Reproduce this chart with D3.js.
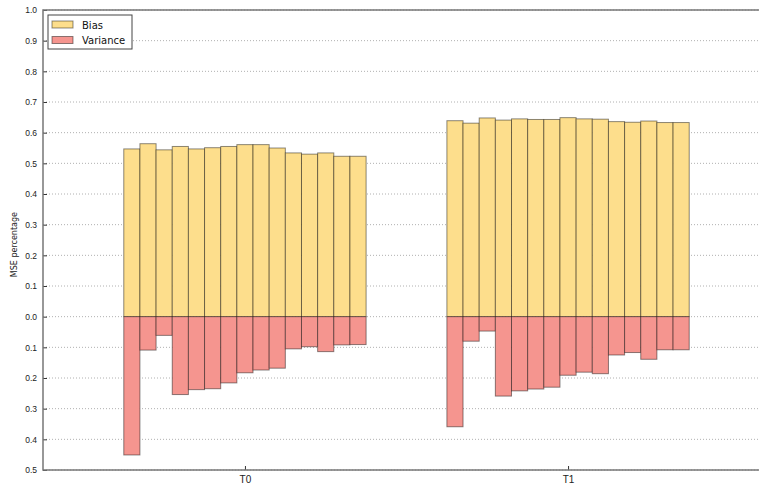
<!DOCTYPE html>
<html>
<head>
<meta charset="utf-8">
<script src="https://cdn.jsdelivr.net/npm/d3@7"></script>
<style>
  body { margin: 0; background: #fff; }
  svg { display: block; font-family: "DejaVu Sans", sans-serif; }
</style>
</head>
<body>
<div id="grafica"></div>
<script>
// datos
var grupos = ["T0", "T1"];
var sesgo_T0 = [0.547, 0.564, 0.544, 0.555, 0.547, 0.551, 0.555, 0.561, 0.561, 0.550, 0.534, 0.530, 0.534, 0.523, 0.523];
var varianza_T0 = [0.451, 0.109, 0.061, 0.254, 0.238, 0.235, 0.216, 0.183, 0.174, 0.168, 0.105, 0.098, 0.114, 0.092, 0.091];
var sesgo_T1 = [0.639, 0.631, 0.648, 0.641, 0.645, 0.643, 0.643, 0.649, 0.645, 0.644, 0.636, 0.634, 0.638, 0.633, 0.633];
var varianza_T1 = [0.359, 0.080, 0.047, 0.259, 0.242, 0.236, 0.230, 0.191, 0.181, 0.186, 0.125, 0.117, 0.139, 0.108, 0.108];
var ticks_y = [-0.5, -0.4, -0.3, -0.2, -0.1, 0, 0.1, 0.2, 0.3, 0.4, 0.5, 0.6, 0.7, 0.8, 0.9, 1.0];
var series = ["Bias", "Variance"];

var ancho = 759, alto = 487;
var margen = {top: 10, left: 43, bottom: 17, right: -11};
var color_sesgo = "#fdde8c", color_var = "#f5958f";

var svg = d3.select("#grafica").append("svg")
  .attr("width", ancho)
  .attr("height", alto);

var x = d3.scaleLinear()
  .domain([-0.625, 1.625])
  .range([margen.left, ancho - margen.right]);
var y = d3.scaleLinear()
  .domain([-0.5, 1.0])
  .range([alto - margen.bottom, margen.top]);

// rejilla punteada
svg.append("g").selectAll("line")
  .data(ticks_y)
  .enter().append("line")
  .attr("x1", x.range()[0]).attr("x2", x.range()[1])
  .attr("y1", function(d) { return y(d); })
  .attr("y2", function(d) { return y(d); })
  .attr("stroke", "#b0b0b0")
  .attr("stroke-width", 1)
  .attr("stroke-dasharray", "1,2");

var anchoBarra = 0.05;
var datos = [
  {g: 0, sesgo: sesgo_T0, varianza: varianza_T0},
  {g: 1, sesgo: sesgo_T1, varianza: varianza_T1}
];

datos.forEach(function(grupo) {
  var inicio = grupo.g - anchoBarra * grupo.sesgo.length / 2;
  svg.append("g").selectAll("rect")
    .data(grupo.sesgo)
    .enter().append("rect")
    .attr("x", function(d, i) { return x(inicio + i * anchoBarra); })
    .attr("y", function(d) { return y(d); })
    .attr("width", function() { return x(anchoBarra) - x(0); })
    .attr("height", function(d) { return y(0) - y(d); })
    .attr("fill", color_sesgo)
    .attr("stroke", "#000")
    .attr("stroke-opacity", 0.45);
  svg.append("g").selectAll("rect")
    .data(grupo.varianza)
    .enter().append("rect")
    .attr("x", function(d, i) { return x(inicio + i * anchoBarra); })
    .attr("y", y(0))
    .attr("width", function() { return x(anchoBarra) - x(0); })
    .attr("height", function(d) { return y(-d) - y(0); })
    .attr("fill", color_var)
    .attr("stroke", "#000")
    .attr("stroke-opacity", 0.45);
});

// eje y (ticks hacia dentro)
var yAxis = d3.axisLeft(y)
  .tickValues(ticks_y)
  .tickSize(-4)
  .tickPadding(6)
  .tickFormat(function(d) { return d3.format(".1f")(Math.abs(d)); });
var gy = svg.append("g")
  .attr("transform", "translate(" + margen.left + ",0)")
  .call(yAxis);
gy.select(".domain").remove();
gy.selectAll("text").attr("font-size", 8.5).attr("fill", "#222");
gy.selectAll("line").attr("stroke", "#333");

// eje x
var xAxis = d3.axisBottom(x)
  .tickValues([0, 1])
  .tickSize(-4)
  .tickPadding(6)
  .tickFormat(function(d) { return grupos[d]; });
var gx = svg.append("g")
  .attr("transform", "translate(0," + y.range()[0] + ")")
  .call(xAxis);
gx.select(".domain").remove();
gx.selectAll("text").attr("font-size", 10).attr("fill", "#222");
gx.selectAll("line").attr("stroke", "#333");

// marco
svg.append("rect")
  .attr("x", x.range()[0])
  .attr("y", y.range()[1])
  .attr("width", x.range()[1] - x.range()[0])
  .attr("height", y.range()[0] - y.range()[1])
  .attr("fill", "none")
  .attr("stroke", "#777")
  .attr("stroke-width", 1.5);

svg.append("text")
  .attr("transform", "translate(17," + (y(0.235)) + ") rotate(-90)")
  .attr("text-anchor", "middle")
  .attr("font-size", 8)
  .attr("fill", "#222")
  .text("MSE percentage");

// leyenda
var leyenda = svg.append("g").attr("transform", "translate(48,15)");
leyenda.append("rect")
  .attr("width", 84).attr("height", 34)
  .attr("fill", "#fff")
  .attr("stroke", "#444");
leyenda.selectAll("g.item")
  .data(series)
  .enter().append("g")
  .attr("class", "item")
  .attr("transform", function(d, i) { return "translate(4," + (6 + i * 15.5) + ")"; })
  .each(function(d, i) {
    var g = d3.select(this);
    g.append("rect")
      .attr("width", 21).attr("height", 7)
      .attr("fill", i == 0 ? color_sesgo : color_var)
      .attr("stroke", "#000").attr("stroke-opacity", 0.45);
    g.append("text")
      .attr("x", 30).attr("y", 7.5)
      .attr("font-size", 10)
      .attr("fill", "#111")
      .text(d);
  });
</script>
</body>
</html>
